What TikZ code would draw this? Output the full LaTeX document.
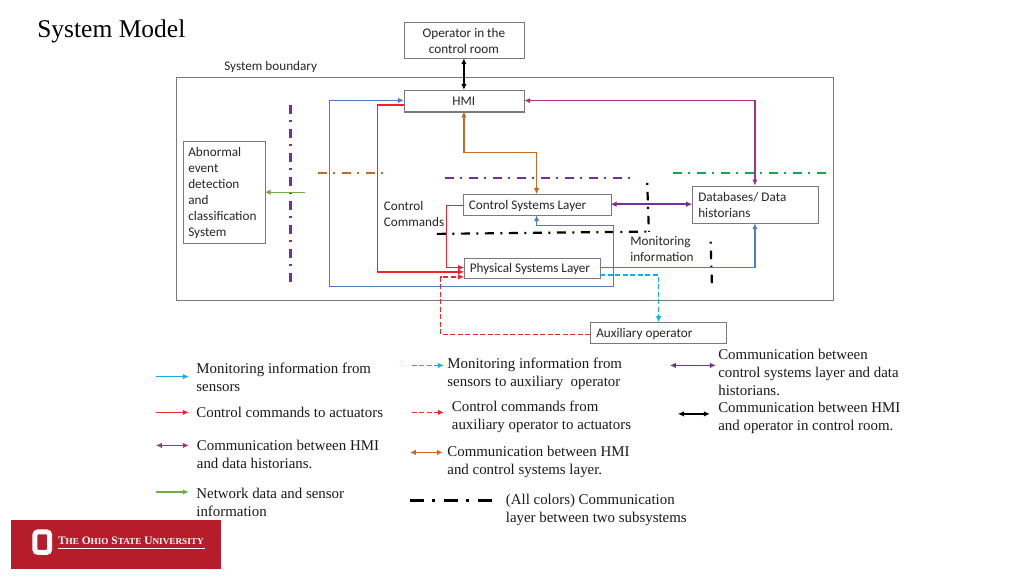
\documentclass[tikz,border=0pt]{standalone}
\usepackage{fontspec}
\setmainfont{Liberation Serif}
\newfontfamily\boxfont{Carlito}
\usetikzlibrary{arrows.meta}
\definecolor{cblue}{HTML}{4F7BC8}
\definecolor{cred}{HTML}{F0222C}
\definecolor{corange}{HTML}{C96A24}
\definecolor{cpurple}{HTML}{7030A0}
\definecolor{cgreen}{HTML}{70AD47}
\definecolor{csky}{HTML}{12AEEA}
\definecolor{cmag}{HTML}{A3347A}
\definecolor{osured}{HTML}{B71C2B}
\definecolor{cteal}{HTML}{00B050}
\tikzset{
 x=1pt,y=-1pt,
 sbox/.style={draw=black!52,line width=1.1pt,fill=white,inner sep=0pt,anchor=north west},
 lab/.style={anchor=west,inner sep=0pt,align=left,font=\fontsize{14.9}{18}\selectfont,text=black!90},
 clab/.style={anchor=west,inner sep=0pt,align=left,font=\boxfont\fontsize{13.2}{16}\selectfont,text=black!85},
 tip/.style={-{Latex[length=6pt,width=5.5pt]}},
 bitip/.style={{Latex[length=6pt,width=5.5pt]}-{Latex[length=6pt,width=5.5pt]}},
 conn/.style={line width=1.3pt},
 dashy/.style={dash pattern=on 5pt off 2.5pt},
 layer/.style={line width=2.2pt,dash pattern=on 9pt off 6.5pt on 2pt off 6.5pt},
 vlayer/.style={line width=2.2pt,dash pattern=on 2pt off 7pt on 8.5pt off 6.5pt},
}
\begin{document}
\begin{tikzpicture}
\useasboundingbox (0.1,0.1) rectangle (1024.1,576.1);
\node[anchor=west,inner sep=0pt,font=\fontsize{25.5}{30}\selectfont] (title) at (37.2,31.6) {System Model};
% boundary
\draw[draw=black!52,line width=1.1pt] (176.5,77.7) rectangle (833.5,300.2);
\node[clab] (bl) at (224.2,66.6) {System boundary};
% boxes
\node[sbox,minimum width=120.3pt,minimum height=36.7pt] (op) at (404,21.6) {};
\node[font=\boxfont\fontsize{13.2}{16}\selectfont,align=center,inner sep=0pt,text=black!85] (opt) at (464,40.6) {Operator in the\\control room};
\node[sbox,minimum width=120.3pt,minimum height=21.5pt] (hmi) at (404,90) {};
\node[font=\boxfont\fontsize{13.2}{16}\selectfont,inner sep=0pt,text=black!85] (hmit) at (464,101) {HMI};
\node[sbox,minimum width=82pt,minimum height=102pt] (ab) at (183,141.3) {};
\node[clab] (abt) at (188.2,192.9) {Abnormal\\event\\detection\\and\\classification\\System};
\node[sbox,minimum width=147.4pt,minimum height=21pt] (cs) at (463.3,194.3) {};
\node[clab] (cst) at (468.7,205.6) {Control Systems Layer};
\node[sbox,minimum width=136pt,minimum height=20.6pt] (ps) at (464.3,257.7) {};
\node[clab] (pst) at (469.7,268.6) {Physical Systems Layer};
\node[sbox,minimum width=125.7pt,minimum height=37.6pt] (db) at (692.3,185.7) {};
\node[clab] (dbt) at (698.2,204.9) {Databases/ Data\\historians};
\node[sbox,minimum width=136pt,minimum height=21pt] (aux) at (590.3,322.3) {};
\node[clab] (auxt) at (596.2,333.9) {Auxiliary operator};
\node[clab] (cc) at (383.7,214.3) {Control\\Commands};
\node[clab] (mi) at (630.2,249.1) {Monitoring\\information};
% helper coordinates
\coordinate (a1) at (329.3,100.5);
\coordinate (a2) at (329.3,286.7);
\coordinate (a3) at (613.3,286.7);
\coordinate (a4) at (613.3,225.7);
\coordinate (a5) at (536.7,225.7);
% layers
\draw[layer,cpurple] (290.5,105)--(290.5,284);
\draw[layer,corange] (318,173)--(386,173);
\draw[layer,cpurple] (445,177.7)--(634,177.7);
\draw[layer,cteal] (673,173)--(829,173);
\draw[layer,black] (437,234)--(648,231.7);
\draw[vlayer,black] (647.3,183)--(649,232);
\draw[vlayer,black] (710.7,241.7)--(712,284);
% connectors
\draw[conn,black,line width=1.5pt,bitip] (464,58.3)--(464,90);
\draw[conn,cblue,tip] (600.3,267.3)--(755,267.3)--(755,223.3);
\draw[conn,cblue,tip] (a3)--(a2)--(a1)--(404,100.5);
\draw[conn,cblue,tip] (a3)--(a4)--(a5)--(536.7,215.3);
\draw[conn,cred,tip] (404,105)--(377.3,105)--(377.3,272)--(464.3,272);
\draw[conn,cred,tip] (463.3,205.3)--(446.7,205.3)--(446.7,267.7)--(464.3,267.7);
\draw[conn,cred,dashy,tip] (590.3,334.7)--(440.7,334.7)--(440.7,277)--(464.3,277);
\draw[conn,csky,dashy,tip] (600.3,275)--(658.7,275)--(658.7,322.3);
\draw[conn,corange,bitip] (464,111.5)--(464,152.7)--(536.7,152.7)--(536.7,194.3);
\draw[conn,cmag,line width=1.5pt,bitip] (524.3,100.7)--(755,100.7)--(755,185.7);
\draw[conn,cpurple!85!cmag,line width=1.5pt,bitip] (610.7,204.3)--(692.3,204.3);
\coordinate (g1) at (305,192.3);
\draw[conn,cgreen,tip,line width=1.4pt] (g1)--(264.7,192.3);
% legend
\coordinate (l1a) at (156,376.7); \coordinate (l1b) at (189,376.7);
\draw[conn,csky,tip,line width=1.5pt] (l1a)--(l1b);
\node[lab] (l1) at (196.3,377.6) {Monitoring information from\\sensors};
\coordinate (l2a) at (156,412.5); \coordinate (l2b) at (189,412.5);
\draw[conn,cred,tip,line width=1.8pt] (l2a)--(l2b);
\node[lab] (l2) at (196.3,412.1) {Control commands to actuators};
\coordinate (l3a) at (156,445.5); \coordinate (l3b) at (189,445.5);
\draw[conn,cmag,bitip] (l3a)--(l3b);
\node[lab] (l3) at (196.8,454.6) {Communication between HMI\\and data historians.};
\coordinate (l4a) at (156,492); \coordinate (l4b) at (189,492);
\draw[conn,cgreen,tip,line width=1.6pt] (l4a)--(l4b);
\node[lab] (l4) at (196.3,502.6) {Network data and sensor\\information};
\coordinate (m1a) at (412,365.5); \coordinate (m1b) at (444,365.5);
\draw[conn,csky,tip,dashy,line width=1.5pt] (m1a)--(m1b);
\node[lab] (m1) at (447.3,373.6) {Monitoring information from\\sensors to auxiliary~ operator};
\coordinate (m2a) at (412,412.5); \coordinate (m2b) at (444,412.5);
\draw[conn,cred,tip,dashy,line width=1.5pt] (m2a)--(m2b);
\node[lab] (m2) at (451.8,416.6) {Control commands from\\auxiliary operator to actuators};
\coordinate (m3a) at (410,452.5); \coordinate (m3b) at (443,452.5);
\draw[conn,corange,bitip] (m3a)--(m3b);
\node[lab] (m3) at (447.3,461.6) {Communication between HMI\\and control systems layer.};
\coordinate (m4a) at (410,500.5); \coordinate (m4b) at (494,500.5);
\draw[black,line width=3.2pt,dash pattern=on 14pt off 8.5pt on 3pt off 8.5pt on 14pt off 8.5pt on 3pt off 8.5pt on 14pt off 10pt] (m4a)--(m4b);
\node[lab] (m4) at (505.8,510.1) {(All colors) Communication\\layer between two subsystems};
\coordinate (r1a) at (670,365.5); \coordinate (r1b) at (716,365.5);
\draw[conn,cpurple,bitip] (r1a)--(r1b);
\node[lab] (r1) at (718.2,372.6) {Communication between\\control systems layer and data\\historians.};
\coordinate (r2a) at (678,414); \coordinate (r2b) at (710,414);
\draw[conn,black,bitip] (r2a)--(r2b);
\node[lab] (r2) at (718.2,417.6) {Communication between HMI\\and operator in control room.};
% logo
\node[fill=osured,minimum width=210pt,minimum height=49pt,anchor=north west,inner sep=0pt] (logo) at (11,519.5) {};
\node[anchor=west,inner sep=0pt,text=white,font=\bfseries\fontsize{11.4}{13}\selectfont] (lt) at (58,541) {T{\fontsize{9.2}{11}\selectfont HE} O{\fontsize{9.2}{11}\selectfont HIO} S{\fontsize{9.2}{11}\selectfont TATE} U{\fontsize{9.2}{11}\selectfont NIVERSITY}};
\draw[white,line width=.6pt] (58,548.7)--(205,548.7);
\draw[white,line width=5pt,rounded corners=3pt,fill=osured] (35,532) rectangle (49.7,552.5);
\end{tikzpicture}
\end{document}
